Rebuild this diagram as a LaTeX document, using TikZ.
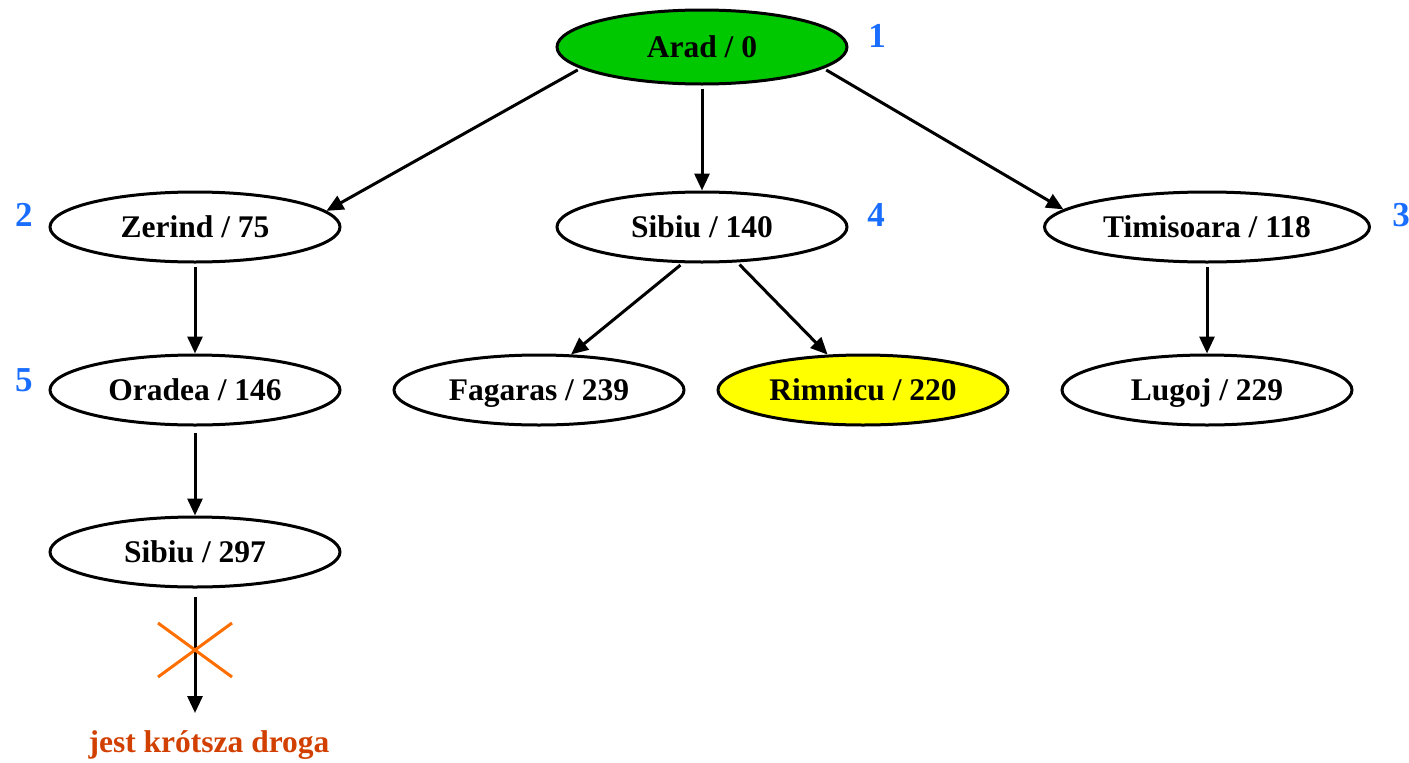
\documentclass[tikz,border=0pt]{standalone}
\usepackage{fontspec}
\setmainfont{Liberation Serif}
\usetikzlibrary{shapes.geometric,arrows.meta}
\definecolor{nodegreen}{RGB}{0,200,0}
\definecolor{nodeyellow}{RGB}{255,255,0}
\definecolor{orderblue}{RGB}{26,110,255}
\definecolor{crossorange}{RGB}{255,110,0}
\definecolor{noteorange}{RGB}{210,64,0}
\begin{document}
\begin{tikzpicture}[x=1pt,y=-1pt,
  city/.style={ellipse,draw=black,line width=3pt,fill=white,inner sep=0pt,
    minimum width=290pt,minimum height=70pt,text height=21pt,text depth=0pt,
    font=\fontsize{31.5}{36}\selectfont\bfseries},
  order/.style={text=orderblue,font=\fontsize{35}{40}\selectfont\bfseries},
  link/.style={line width=3pt,-{Triangle[length=17pt,width=15pt]},shorten <=3pt}
]
\useasboundingbox (0,0) rectangle (1409,763);

% search tree
\node[city,fill=nodegreen,minimum height=74pt] (arad) at (702,47) {Arad / 0};
\node[city] (zerind) at (195,227) {Zerind / 75};
\node[city] (sibiuA) at (702,227) {Sibiu / 140};
\node[city,minimum width=325pt] (timisoara) at (1207,227) {Timisoara / 118};
\node[city] (oradea) at (195,390) {Oradea / 146};
\node[city] (fagaras) at (539,390) {Fagaras / 239};
\node[city,fill=nodeyellow] (rimnicu) at (863,390) {Rimnicu / 220};
\node[city] (lugoj) at (1207,390) {Lugoj / 229};
\node[city] (sibiuB) at (195,552) {Sibiu / 297};

% expansion order
\node[order] (n1) at (877,36) {1};
\node[order] (n2) at (24,215) {2};
\node[order] (n3) at (1401,215) {3};
\node[order] (n4) at (876,215) {4};
\node[order] (n5) at (24,380) {5};

% edges
\draw[link] (arad.190) -- (zerind.7);
\draw[link] (arad) -- (sibiuA);
\draw[link] (arad.-10) -- (timisoara.173);
\draw[link] (zerind) -- (oradea);
\draw[link] (sibiuA.-118) -- (fagaras.48);
\draw[link] (sibiuA.-45) -- (rimnicu.135);
\draw[link] (timisoara) -- (lugoj);
\draw[link,shorten <=6pt] (oradea) -- (sibiuB);

% pruned branch
\coordinate (cut) at (195,713);
\draw[link,shorten <=8pt] (sibiuB) -- (cut);
\coordinate (xc) at (195,650);
\draw[crossorange,line width=3pt] ([shift={(-37,-27)}]xc) -- ([shift={(37,27)}]xc)
  ([shift={(-37,27)}]xc) -- ([shift={(37,-27)}]xc);
\node[text=noteorange,font=\fontsize{31.5}{36}\selectfont\bfseries] (note) at (209,745) {jest krótsza droga};
\end{tikzpicture}
\end{document}
